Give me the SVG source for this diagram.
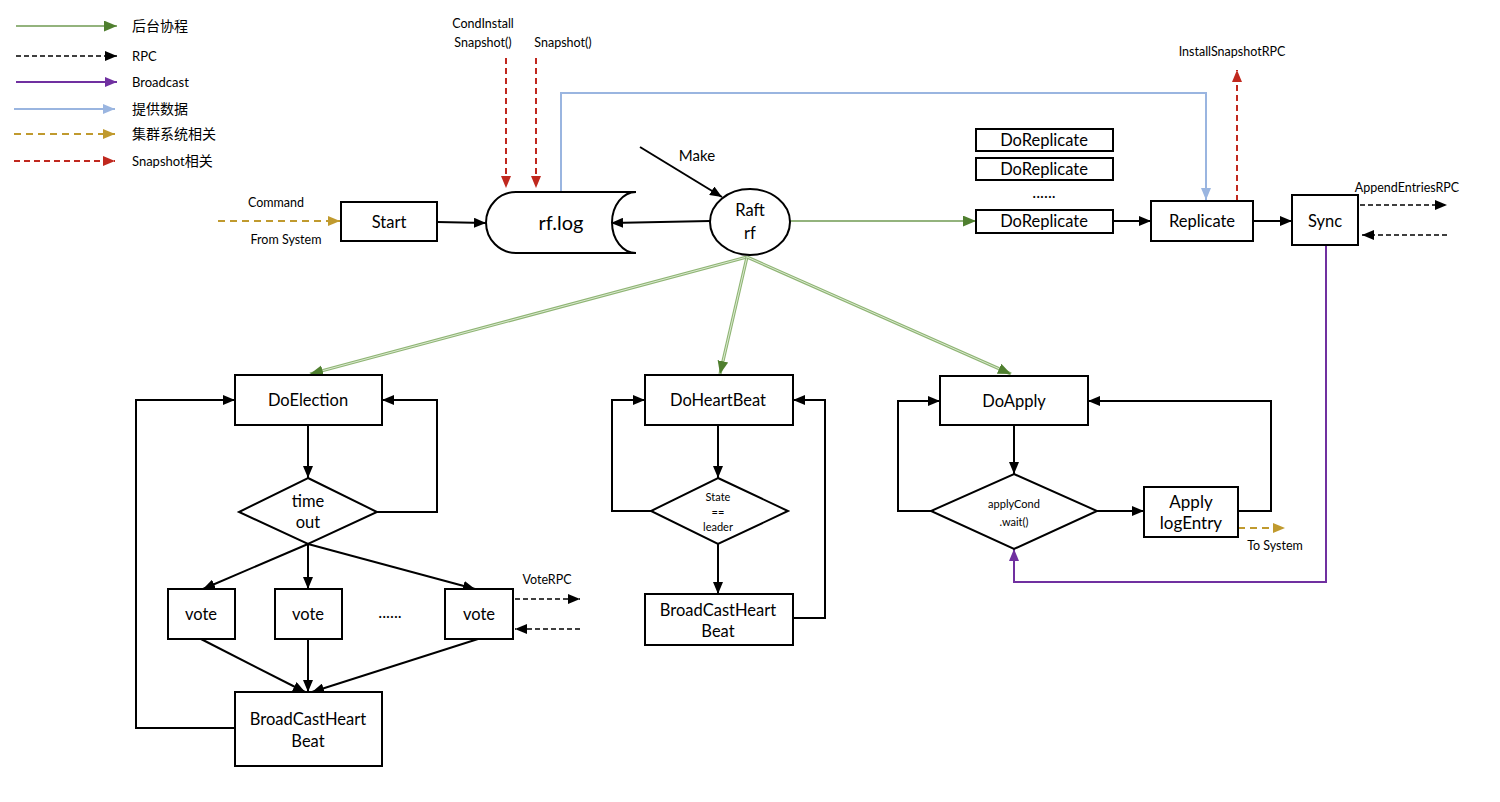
<svg xmlns="http://www.w3.org/2000/svg" width="1500" height="802" viewBox="0 0 1500 802">
<defs>
<style>
text{font-family:Lato,"Open Sans","Noto Sans CJK SC",sans-serif;fill:#000;text-anchor:middle}
.lg{text-anchor:start;font-size:13px}
.cn{font-family:"Noto Sans CJK SC",sans-serif;font-size:14px;text-anchor:start}
.box{fill:#fff;stroke:#000;stroke-width:2}
.lbl{font-size:16.5px}
.sm{font-size:12.5px}
.xs{font-size:11px}
.blk{fill:none;stroke:#000;stroke-width:2}
.dsh{fill:none;stroke:#000;stroke-width:1.6;stroke-dasharray:5,3}
.grn{fill:none;stroke:#6f9a52;stroke-width:1.6}
.dg{fill:none;stroke:#8fb574;stroke-width:3.2}
.dgi{fill:none;stroke:#e3eedb;stroke-width:0.9}
.pur{fill:none;stroke:#7030a0;stroke-width:2}
.blu{fill:none;stroke:#9ab5e0;stroke-width:2}
.gld{fill:none;stroke:#c09a2e;stroke-width:2;stroke-dasharray:7,5}
.red{fill:none;stroke:#c0281e;stroke-width:2;stroke-dasharray:6,4}
</style>
<marker id="ak" viewBox="0 0 12 10" refX="12" refY="5" markerWidth="12" markerHeight="10" markerUnits="userSpaceOnUse" orient="auto"><path d="M0,0L12,5L0,10z" fill="#000"/></marker>
<marker id="ag" viewBox="0 0 12 10" refX="12" refY="5" markerWidth="13" markerHeight="11" markerUnits="userSpaceOnUse" orient="auto"><path d="M0,0L12,5L0,10z" fill="#4f7f2f"/></marker>
<marker id="ap" viewBox="0 0 12 10" refX="12" refY="5" markerWidth="12" markerHeight="10" markerUnits="userSpaceOnUse" orient="auto"><path d="M0,0L12,5L0,10z" fill="#7030a0"/></marker>
<marker id="ab" viewBox="0 0 12 10" refX="12" refY="5" markerWidth="12" markerHeight="10" markerUnits="userSpaceOnUse" orient="auto"><path d="M0,0L12,5L0,10z" fill="#9ab5e0"/></marker>
<marker id="ay" viewBox="0 0 12 10" refX="12" refY="5" markerWidth="12" markerHeight="10" markerUnits="userSpaceOnUse" orient="auto"><path d="M0,0L12,5L0,10z" fill="#c09a2e"/></marker>
<marker id="ar" viewBox="0 0 12 10" refX="12" refY="5" markerWidth="12" markerHeight="10" markerUnits="userSpaceOnUse" orient="auto"><path d="M0,0L12,5L0,10z" fill="#c0281e"/></marker>
</defs>
<rect width="1500" height="802" fill="#fff"/>

<g id="legend">
<path class="grn" d="M16,26H117" marker-end="url(#ag)"/>
<text class="cn" x="132" y="31">后台协程</text>
<path class="dsh" d="M16,56H117" marker-end="url(#ak)"/>
<text class="lg" x="132" y="61">RPC</text>
<path class="pur" d="M16,82H117" marker-end="url(#ap)"/>
<text class="lg" x="132" y="87">Broadcast</text>
<path class="blu" d="M14,109H115" marker-end="url(#ab)"/>
<text class="cn" x="132" y="114">提供数据</text>
<path class="gld" d="M14,134H115" marker-end="url(#ay)"/>
<text class="cn" x="132" y="139">集群系统相关</text>
<path class="red" d="M14,161H115" marker-end="url(#ar)"/>
<text class="lg" x="132" y="166">Snapshot<tspan class="cn" style="font-size:14px">相关</tspan></text>
</g>

<g id="connectors">
<path class="gld" d="M218,221H340" marker-end="url(#ay)"/>
<path class="blk" d="M437,222L486,223" marker-end="url(#ak)"/>
<path class="blk" d="M710,221L611,223" marker-end="url(#ak)"/>
<path class="blk" d="M640,147L722,197" marker-end="url(#ak)"/>
<path class="red" d="M506,58V188" marker-end="url(#ar)"/>
<path class="red" d="M536,58V188" marker-end="url(#ar)"/>
<path class="blu" d="M561,192V93H1206V200" marker-end="url(#ab)"/>
<path class="grn" d="M790,221H976" marker-end="url(#ag)"/>
<path class="blk" d="M1113,221H1151" marker-end="url(#ak)"/>
<path class="red" d="M1237,201V70" marker-end="url(#ar)"/>
<path class="blk" d="M1253,221H1292" marker-end="url(#ak)"/>
<path class="dsh" d="M1360,205H1447" marker-end="url(#ak)"/>
<path class="dsh" d="M1447,235H1362" marker-end="url(#ak)"/>
<path class="pur" d="M1326,245V582H1014V549" marker-end="url(#ap)"/>
<path class="dg" d="M747,257L310,374"/>
<path class="dgi" d="M747,257L310,374"/>
<path class="dg" d="M747,257L720,374"/>
<path class="dgi" d="M747,257L720,374"/>
<path class="dg" d="M747,257L1011,374"/>
<path class="dgi" d="M747,257L1011,374"/>
<path d="M747,257L310,374" fill="none" stroke="none" marker-end="url(#ag)"/>
<path d="M747,257L720,374" fill="none" stroke="none" marker-end="url(#ag)"/>
<path d="M747,257L1011,374" fill="none" stroke="none" marker-end="url(#ag)"/>
<path class="blk" d="M308,425V478" marker-end="url(#ak)"/>
<path class="blk" d="M377,512H437V400H382" marker-end="url(#ak)"/>
<path class="blk" d="M308,544L203,589" marker-end="url(#ak)"/>
<path class="blk" d="M308,544V589" marker-end="url(#ak)"/>
<path class="blk" d="M308,544L475,589" marker-end="url(#ak)"/>
<path class="dsh" d="M515,599H580" marker-end="url(#ak)"/>
<path class="dsh" d="M580,629H515" marker-end="url(#ak)"/>
<path class="blk" d="M201,639L305,692" marker-end="url(#ak)"/>
<path class="blk" d="M308,639V692" marker-end="url(#ak)"/>
<path class="blk" d="M478,639L312,692" marker-end="url(#ak)"/>
<path class="blk" d="M235,728H136V400H235" marker-end="url(#ak)"/>
<path class="blk" d="M718,425V478" marker-end="url(#ak)"/>
<path class="blk" d="M651,511H612V400H645" marker-end="url(#ak)"/>
<path class="blk" d="M718,544V594" marker-end="url(#ak)"/>
<path class="blk" d="M793,618H825V400H793" marker-end="url(#ak)"/>
<path class="blk" d="M1014,425V474" marker-end="url(#ak)"/>
<path class="blk" d="M931,511H898V401H940" marker-end="url(#ak)"/>
<path class="blk" d="M1097,511H1144" marker-end="url(#ak)"/>
<path class="blk" d="M1238,511H1271V401H1088" marker-end="url(#ak)"/>
<path class="gld" d="M1238,528H1285" marker-end="url(#ay)"/>
</g>

<g id="labels">
<text class="sm" x="276" y="207">Command</text>
<text class="sm" x="286" y="244">From System</text>
<text class="sm" x="483" y="28">CondInstall</text>
<text class="sm" x="483" y="47">Snapshot()</text>
<text class="sm" x="563" y="47">Snapshot()</text>
<text style="font-size:15px" x="697" y="161">Make</text>
<text class="sm" x="1232" y="56">InstallSnapshotRPC</text>
<text class="sm" x="1407" y="192">AppendEntriesRPC</text>
<text class="sm" x="547" y="584">VoteRPC</text>
<text class="sm" x="1275" y="550">To System</text>
</g>

<g id="start"><rect class="box" x="341" y="202" width="96" height="39"/><text class="lbl" x="389" y="228">Start</text></g>
<g id="rflog"><path class="box" d="M516,192H636A24,30.5 0 0 0 636,253H516A30,30.5 0 0 1 516,192Z"/><text style="font-size:20px" x="561" y="230">rf.log</text></g>
<g id="raft"><ellipse class="box" cx="750" cy="222" rx="40" ry="33"/><text class="lbl" x="750" y="216">Raft</text><text class="lbl" x="750" y="239">rf</text></g>
<g id="doreplicate1"><rect class="box" x="976" y="129" width="137" height="22"/><text class="lbl" x="1044" y="146">DoReplicate</text></g>
<g id="doreplicate2"><rect class="box" x="976" y="158" width="137" height="22"/><text class="lbl" x="1044" y="175">DoReplicate</text></g>
<g id="dots1"><text class="lbl" x="1044" y="198">......</text></g>
<g id="doreplicate3"><rect class="box" x="976" y="210" width="137" height="23"/><text class="lbl" x="1044" y="227">DoReplicate</text></g>
<g id="replicate"><rect class="box" x="1151" y="201" width="102" height="40"/><text class="lbl" x="1202" y="227">Replicate</text></g>
<g id="sync"><rect class="box" x="1292" y="195" width="66" height="50"/><text class="lbl" x="1325" y="227">Sync</text></g>

<g id="doelection"><rect class="box" x="235" y="375" width="147" height="50"/><text class="lbl" x="308" y="406">DoElection</text></g>
<g id="timeout"><path class="box" d="M308,478L377,512L308,544L239,512Z"/><text class="lbl" x="308" y="507">time</text><text class="lbl" x="308" y="528">out</text></g>
<g id="vote1"><rect class="box" x="168" y="589" width="67" height="50"/><text class="lbl" x="201" y="620">vote</text></g>
<g id="vote2"><rect class="box" x="275" y="589" width="67" height="50"/><text class="lbl" x="308" y="620">vote</text></g>
<g id="dots2"><text class="lbl" x="390" y="618">......</text></g>
<g id="vote3"><rect class="box" x="445" y="589" width="68" height="50"/><text class="lbl" x="479" y="620">vote</text></g>
<g id="broadcast1"><rect class="box" x="235" y="692" width="147" height="74"/><text class="lbl" x="308" y="725">BroadCastHeart</text><text class="lbl" x="308" y="747">Beat</text></g>

<g id="doheartbeat"><rect class="box" x="645" y="375" width="148" height="50"/><text class="lbl" x="718" y="406">DoHeartBeat</text></g>
<g id="stateleader"><path class="box" d="M718,478L788,511L718,544L651,511Z"/><text class="xs" x="718" y="501">State</text><text class="xs" x="718" y="516">==</text><text class="xs" x="718" y="531">leader</text></g>
<g id="broadcast2"><rect class="box" x="645" y="594" width="148" height="51"/><text class="lbl" x="718" y="616">BroadCastHeart</text><text class="lbl" x="718" y="637">Beat</text></g>

<g id="doapply"><rect class="box" x="940" y="376" width="148" height="49"/><text class="lbl" x="1014" y="407">DoApply</text></g>
<g id="applycond"><path class="box" d="M1014,474L1097,511L1014,549L931,511Z"/><text class="xs" x="1014" y="508">applyCond</text><text class="xs" x="1014" y="526">.wait()</text></g>
<g id="applylog"><rect class="box" x="1144" y="487" width="94" height="50"/><text style="font-size:17px" x="1191" y="508">Apply</text><text style="font-size:17px" x="1191" y="529">logEntry</text></g>
</svg>
